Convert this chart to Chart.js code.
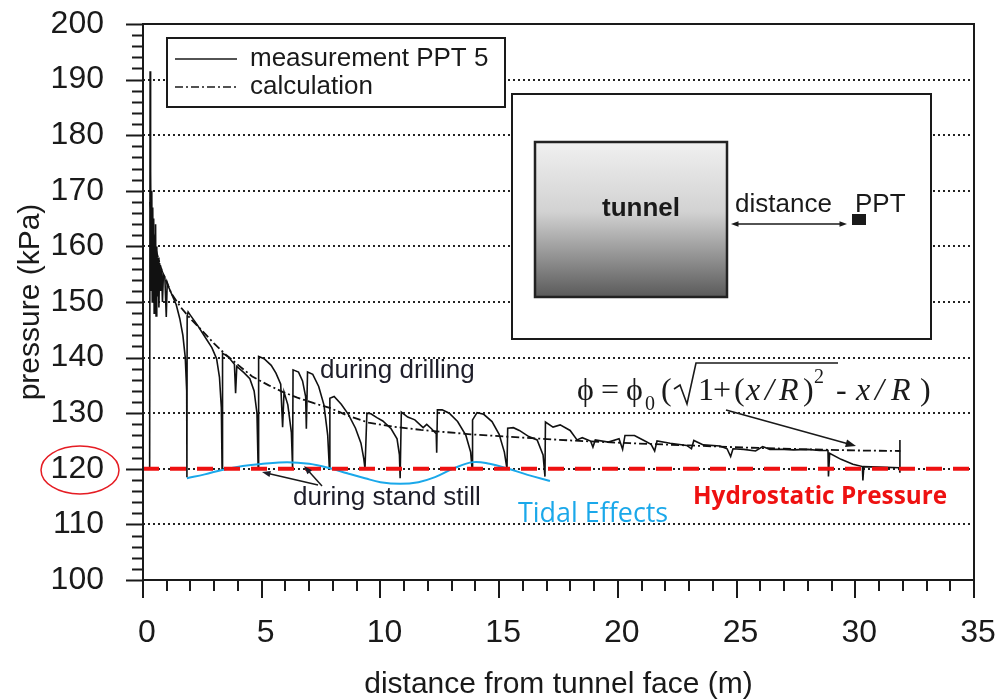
<!DOCTYPE html>
<html>
<head>
<meta charset="utf-8">
<script src="https://cdn.jsdelivr.net/npm/chart.js@4.4.0/dist/chart.umd.min.js"></script>
<style>
  html, body { margin: 0; padding: 0; background: #fff; }
  #wrap { width: 995px; height: 700px; }
</style>
</head>
<body>
<div id="wrap"><canvas id="chart-ppt5" width="995" height="700"></canvas></div>
<script>
// pore pressure sensor PPT 5: distance from tunnel face (m) vs pressure (kPa)
const measDist = [
  0.28, 0.30, 0.31, 0.33, 0.35, 0.37, 0.39, 0.41, 0.43, 0.45, 0.47, 0.49, 0.51, 0.53, 0.55, 0.58,
  0.61, 0.64, 0.67, 0.70, 0.74, 0.78, 0.82, 0.86, 0.92, 0.98, 1.02, 1.10, 1.25, 1.40, 1.55, 1.68,
  1.78, 1.84, 1.85, 1.86, 1.90, 2.00, 2.30, 2.60, 2.90, 3.10, 3.22, 3.30, 3.33, 3.35, 3.60, 3.85,
  3.90, 3.95, 4.25, 4.50, 4.68, 4.80, 4.85, 4.87, 5.10, 5.40, 5.60, 5.80, 5.88, 5.94, 6.10, 6.25,
  6.30, 6.32, 6.55, 6.72, 6.85, 6.88, 6.93, 7.15, 7.40, 7.62, 7.78, 7.85, 7.87, 8.05, 8.35, 8.65,
  8.95, 9.18, 9.30, 9.35, 9.43, 9.60, 9.85, 10.10, 10.45, 10.70, 10.80, 10.83, 10.88, 11.15, 11.45, 11.80,
  11.95, 12.15, 12.35, 12.37, 12.40, 12.60, 12.90, 13.25, 13.60, 13.80, 13.86, 13.88, 14.07, 14.35, 14.70, 15.00,
  15.22, 15.33, 15.36, 15.60, 15.85, 16.25, 16.60, 16.85, 16.93, 16.95, 17.27, 17.57, 17.99, 18.28, 18.50, 18.85,
  18.95, 19.05, 19.60, 20.05, 20.20, 20.30, 20.70, 21.10, 21.40, 21.55, 21.65, 22.20, 22.90, 23.10, 23.20, 23.60,
  24.30, 24.60, 24.75, 24.85, 25.30, 25.80, 26.10, 26.40, 27.00, 27.40, 28.00, 28.50, 28.85, 28.87, 28.92, 29.40,
  29.90, 30.30, 30.32, 30.36, 31.00, 31.85, 31.88, 31.88
];
const measPress = [
  120.0, 191.5, 152.0, 173.5, 156.0, 170.0, 150.0, 167.0, 154.0, 165.0, 148.0, 162.0, 152.0, 164.0, 147.5, 160.0,
  151.0, 158.0, 149.0, 157.0, 152.0, 156.0, 150.0, 155.0, 154.5, 147.3, 153.5, 152.5, 151.0, 149.5, 147.0, 144.0,
  140.0, 134.0, 118.5, 147.5, 148.2, 147.6, 145.8, 143.8, 141.8, 139.8, 136.5, 131.0, 120.0, 140.8, 140.1, 138.8,
  133.6, 138.4, 137.3, 136.2, 134.0, 130.0, 120.0, 140.2, 139.8, 138.6, 137.2, 135.2, 127.5, 133.8, 131.5, 126.5,
  120.0, 137.8, 137.4, 135.8, 133.0, 127.2, 137.4, 137.0, 134.8, 131.5, 126.0, 120.0, 132.7, 133.0, 131.6, 129.8,
  127.3, 124.6, 121.8, 120.0, 130.0, 129.9, 129.2, 128.6, 127.2, 125.4, 122.5, 118.3, 130.2, 129.3, 128.8, 127.4,
  128.0, 127.2, 126.3, 122.9, 130.6, 130.6, 130.0, 128.5, 126.0, 123.0, 120.0, 128.8, 130.1, 129.8, 128.5, 126.2,
  123.0, 120.0, 127.3, 127.4, 126.9, 125.8, 125.2, 122.5, 118.6, 128.4, 127.5, 127.9, 126.9, 125.2, 125.6, 125.0,
  123.9, 125.2, 124.8, 125.4, 123.5, 126.0, 126.0, 125.1, 124.4, 123.2, 125.0, 124.6, 124.2, 123.6, 125.1, 124.3,
  124.1, 123.6, 122.2, 123.6, 123.5, 123.2, 124.0, 123.5, 123.5, 123.4, 123.5, 123.3, 123.3, 118.6, 122.8, 121.7,
  120.8, 120.4, 117.9, 120.4, 120.3, 120.2, 119.3, 125.2
];

const calcDist = [0.3, 0.5, 0.8, 1.2, 1.6, 2.0, 2.5, 3.0, 3.5, 4.0, 4.6, 5.3, 5.9, 6.5, 7.2, 7.9,
  8.6, 9.5, 10.5, 11.7, 13.8, 16.0, 18.0, 20.5, 23.0, 25.5, 28.0, 30.0, 31.9];
const calcPress = [168.0, 160.0, 155.5, 151.5, 149.0, 147.0, 144.8, 142.5, 140.5, 138.7, 136.6, 135.0, 133.8, 132.8, 131.8, 130.9,
  129.6, 128.3, 127.6, 127.0, 126.2, 125.6, 125.1, 124.6, 124.2, 123.8, 123.5, 123.3, 123.2];

const tideDist = [1.85, 2.6, 3.33, 4.2, 5.05, 6.07, 7.0, 7.88, 8.6, 9.35, 10.0, 10.83, 11.6, 12.3, 13.1, 13.9, 14.6, 15.33, 16.2, 17.14];
const tidePress = [118.3, 119.0, 119.8, 120.5, 120.9, 121.2, 120.9, 120.1, 119.2, 118.3, 117.6, 117.3, 117.6, 118.5, 120.1, 121.2, 120.9, 120.1, 118.9, 117.8];

const hydroDist = [0, 35];
const hydroPress = [120, 120];

const xRange = [0, 35];
const yRange = [100, 200];

const ink = '#1a1a1a';
const sans = "'Liberation Sans', Arial, sans-serif";
const serif = "'Liberation Serif', 'Times New Roman', serif";
const calcDash = [8, 3, 2, 3];

const toPoints = (xs, ys) => xs.map((x, i) => ({ x, y: ys[i] }));

function arrow(ctx, x1, y1, x2, y2, head = 9) {
  const a = Math.atan2(y2 - y1, x2 - x1);
  ctx.beginPath();
  ctx.moveTo(x1, y1);
  ctx.lineTo(x2 - Math.cos(a) * head * 0.6, y2 - Math.sin(a) * head * 0.6);
  ctx.stroke();
  ctx.beginPath();
  ctx.moveTo(x2, y2);
  ctx.lineTo(x2 - head * Math.cos(a - 0.35), y2 - head * Math.sin(a - 0.35));
  ctx.lineTo(x2 - head * Math.cos(a + 0.35), y2 - head * Math.sin(a + 0.35));
  ctx.closePath();
  ctx.fill();
}

// fit a text into a given width by adjusting its size
function fitText(ctx, text, x, y, width, weight, family, color) {
  ctx.font = `${weight} 20px ${family}`;
  const size = 20 * width / ctx.measureText(text).width;
  ctx.font = `${weight} ${size.toFixed(1)}px ${family}`;
  ctx.fillStyle = color;
  ctx.fillText(text, x, y);
}

const decorations = {
  id: 'decorations',
  afterDraw(chart) {
    const { ctx, chartArea: area, scales: { x, y } } = chart;
    ctx.save();

    // frame
    ctx.strokeStyle = ink;
    ctx.lineWidth = 2;
    ctx.strokeRect(area.left, area.top, area.right - area.left, area.bottom - area.top);

    // outer ticks, minor and major
    ctx.beginPath();
    for (let v = yRange[0]; v <= yRange[1]; v += 2) {
      const py = Math.round(y.getPixelForValue(v)) + 0.5;
      const len = v % 10 === 0 ? 17 : 11;
      ctx.moveTo(area.left - len, py);
      ctx.lineTo(area.left, py);
    }
    for (let v = xRange[0]; v <= xRange[1]; v += 1) {
      const px = Math.round(x.getPixelForValue(v));
      const len = v % 5 === 0 ? 18 : 11;
      ctx.moveTo(px, area.bottom);
      ctx.lineTo(px, area.bottom + len);
    }
    ctx.stroke();

    // legend
    ctx.fillStyle = '#fff';
    ctx.fillRect(167, 38, 338, 69);
    ctx.strokeRect(167, 38, 338, 69);
    ctx.lineWidth = 1.6;
    ctx.beginPath();
    ctx.moveTo(175, 59); ctx.lineTo(237, 59);
    ctx.stroke();
    ctx.setLineDash(calcDash);
    ctx.beginPath();
    ctx.moveTo(175, 87); ctx.lineTo(237, 87);
    ctx.stroke();
    ctx.setLineDash([]);
    ctx.fillStyle = ink;
    ctx.font = `26px ${sans}`;
    ctx.textBaseline = 'middle';
    ctx.fillText('measurement PPT 5', 250, 59);
    ctx.fillText('calculation', 250, 87);

    // inset sketch: tunnel and sensor
    ctx.lineWidth = 2;
    ctx.fillStyle = '#fff';
    ctx.fillRect(512, 94, 419, 245);
    ctx.strokeRect(512, 94, 419, 245);
    const grad = ctx.createLinearGradient(0, 142, 0, 297);
    grad.addColorStop(0, '#f0f0f0');
    grad.addColorStop(0.45, '#d2d2d2');
    grad.addColorStop(1, '#5a5a5a');
    ctx.fillStyle = grad;
    ctx.fillRect(535, 142, 192, 155);
    ctx.strokeStyle = '#222';
    ctx.lineWidth = 2.5;
    ctx.strokeRect(535, 142, 192, 155);
    ctx.fillStyle = ink;
    ctx.font = `bold 26px ${sans}`;
    ctx.textAlign = 'center';
    ctx.fillText('tunnel', 641, 209);
    ctx.font = `26px ${sans}`;
    ctx.textAlign = 'left';
    ctx.fillText('distance', 735, 205);
    ctx.fillText('PPT', 855, 205);
    ctx.fillRect(852, 214, 14, 11);
    ctx.lineWidth = 1.5;
    ctx.strokeStyle = ink;
    arrow(ctx, 789, 224, 847, 224, 8);
    arrow(ctx, 789, 224, 731, 224, 8);

    // formula of the calculated curve
    ctx.textBaseline = 'alphabetic';
    ctx.font = `32px ${serif}`;
    ctx.fillText('\u03d5', 577, 400);
    ctx.fillText('=', 601, 400);
    ctx.fillText('\u03d5', 626, 400);
    ctx.font = `20px ${serif}`;
    ctx.fillText('0', 645, 410);
    ctx.font = `32px ${serif}`;
    ctx.fillText('(', 661, 400);
    ctx.fillText('1', 698, 400);
    ctx.fillText('+', 713, 400);
    ctx.fillText('(', 734, 400);
    ctx.fillText(')', 803, 400);
    ctx.fillText('-', 836, 400);
    ctx.fillText(')', 920, 400);
    ctx.font = `italic 32px ${serif}`;
    ctx.fillText('x', 746, 400);
    ctx.fillText('/', 765, 400);
    ctx.fillText('R', 779, 400);
    ctx.fillText('x', 856, 400);
    ctx.fillText('/', 875, 400);
    ctx.fillText('R', 891, 400);
    ctx.font = `20px ${serif}`;
    ctx.fillText('2', 814, 383);
    ctx.lineWidth = 1.6;
    ctx.beginPath();
    ctx.moveTo(674, 389);
    ctx.lineTo(680, 385);
    ctx.lineTo(687, 404);
    ctx.lineTo(696, 363);
    ctx.lineTo(838, 363);
    ctx.stroke();
    arrow(ctx, 726, 410, 856, 446, 11);

    // process annotations
    ctx.font = `26px ${sans}`;
    ctx.fillStyle = '#1e1e2a';
    ctx.textBaseline = 'middle';
    ctx.fillText('during drilling', 320, 371);
    ctx.fillText('during stand still', 293, 498);
    ctx.lineWidth = 1.5;
    arrow(ctx, 318, 485, 262, 472, 9);
    arrow(ctx, 322, 486, 304, 466, 9);

    fitText(ctx, 'Tidal Effects', 518, 514, 150, 'normal', "'Open Sans', 'Noto Sans', sans-serif", '#1aa8ea');
    fitText(ctx, 'Hydrostatic Pressure', 693, 497, 254, 'bold', "'Open Sans', 'Noto Sans', sans-serif", '#ee1111');

    // highlight of the 120 kPa tick label
    ctx.strokeStyle = '#e51c23';
    ctx.lineWidth = 1.5;
    ctx.beginPath();
    ctx.ellipse(80, 470, 39, 24, 0, 0, Math.PI * 2);
    ctx.stroke();

    ctx.restore();
  }
};

const canvas = document.getElementById('chart-ppt5');
new Chart(canvas.getContext('2d'), {
  type: 'scatter',
  data: {
    datasets: [
      {
        label: 'hydrostatic pressure',
        data: toPoints(hydroDist, hydroPress),
        showLine: true,
        borderColor: '#ee1111',
        borderWidth: 4,
        borderDash: [16, 11],
        pointRadius: 0
      },
      {
        label: 'tidal effects',
        data: toPoints(tideDist, tidePress),
        showLine: true,
        borderColor: '#1aa8ea',
        borderWidth: 2,
        tension: 0.4,
        pointRadius: 0
      },
      {
        label: 'measurement PPT 5',
        data: toPoints(measDist, measPress),
        showLine: true,
        borderColor: '#111',
        borderWidth: 1.6,
        pointRadius: 0
      },
      {
        label: 'calculation',
        data: toPoints(calcDist, calcPress),
        showLine: true,
        borderColor: '#111',
        borderWidth: 1.8,
        borderDash: calcDash,
        pointRadius: 0
      }
    ]
  },
  options: {
    responsive: false,
    animation: false,
    devicePixelRatio: 1,
    layout: { padding: { top: 24, right: 21, left: 0, bottom: 0 } },
    plugins: {
      legend: { display: false },
      tooltip: { enabled: false }
    },
    scales: {
      x: {
        type: 'linear',
        min: xRange[0],
        max: xRange[1],
        ticks: { stepSize: 5, padding: 37, labelOffset: 4, color: ink, font: { family: sans, size: 32, lineHeight: 1 } },
        grid: { display: false, drawTicks: false },
        border: { display: false },
        title: {
          display: true,
          text: 'distance from tunnel face (m)',
          color: ink,
          font: { family: sans, size: 30, lineHeight: 1 },
          padding: 0
        },
        afterFit: (scale) => {
          scale.height = 120;
          scale.paddingLeft = 0;
          scale.paddingRight = 0;
        }
      },
      y: {
        min: yRange[0],
        max: yRange[1],
        ticks: { stepSize: 10, padding: 39, color: ink, font: { family: sans, size: 32, lineHeight: 1 } },
        grid: { color: '#222', lineWidth: 2, drawTicks: false },
        border: { display: false, dash: [2, 3] },
        title: {
          display: true,
          text: 'pressure (kPa)',
          color: ink,
          font: { family: sans, size: 30, lineHeight: 1 },
          padding: { top: 16, bottom: 0 }
        },
        afterFit: (scale) => {
          scale.width = 143;
          scale.paddingTop = 0;
          scale.paddingBottom = 0;
        }
      }
    }
  },
  plugins: [decorations]
});
</script>
</body>
</html>
